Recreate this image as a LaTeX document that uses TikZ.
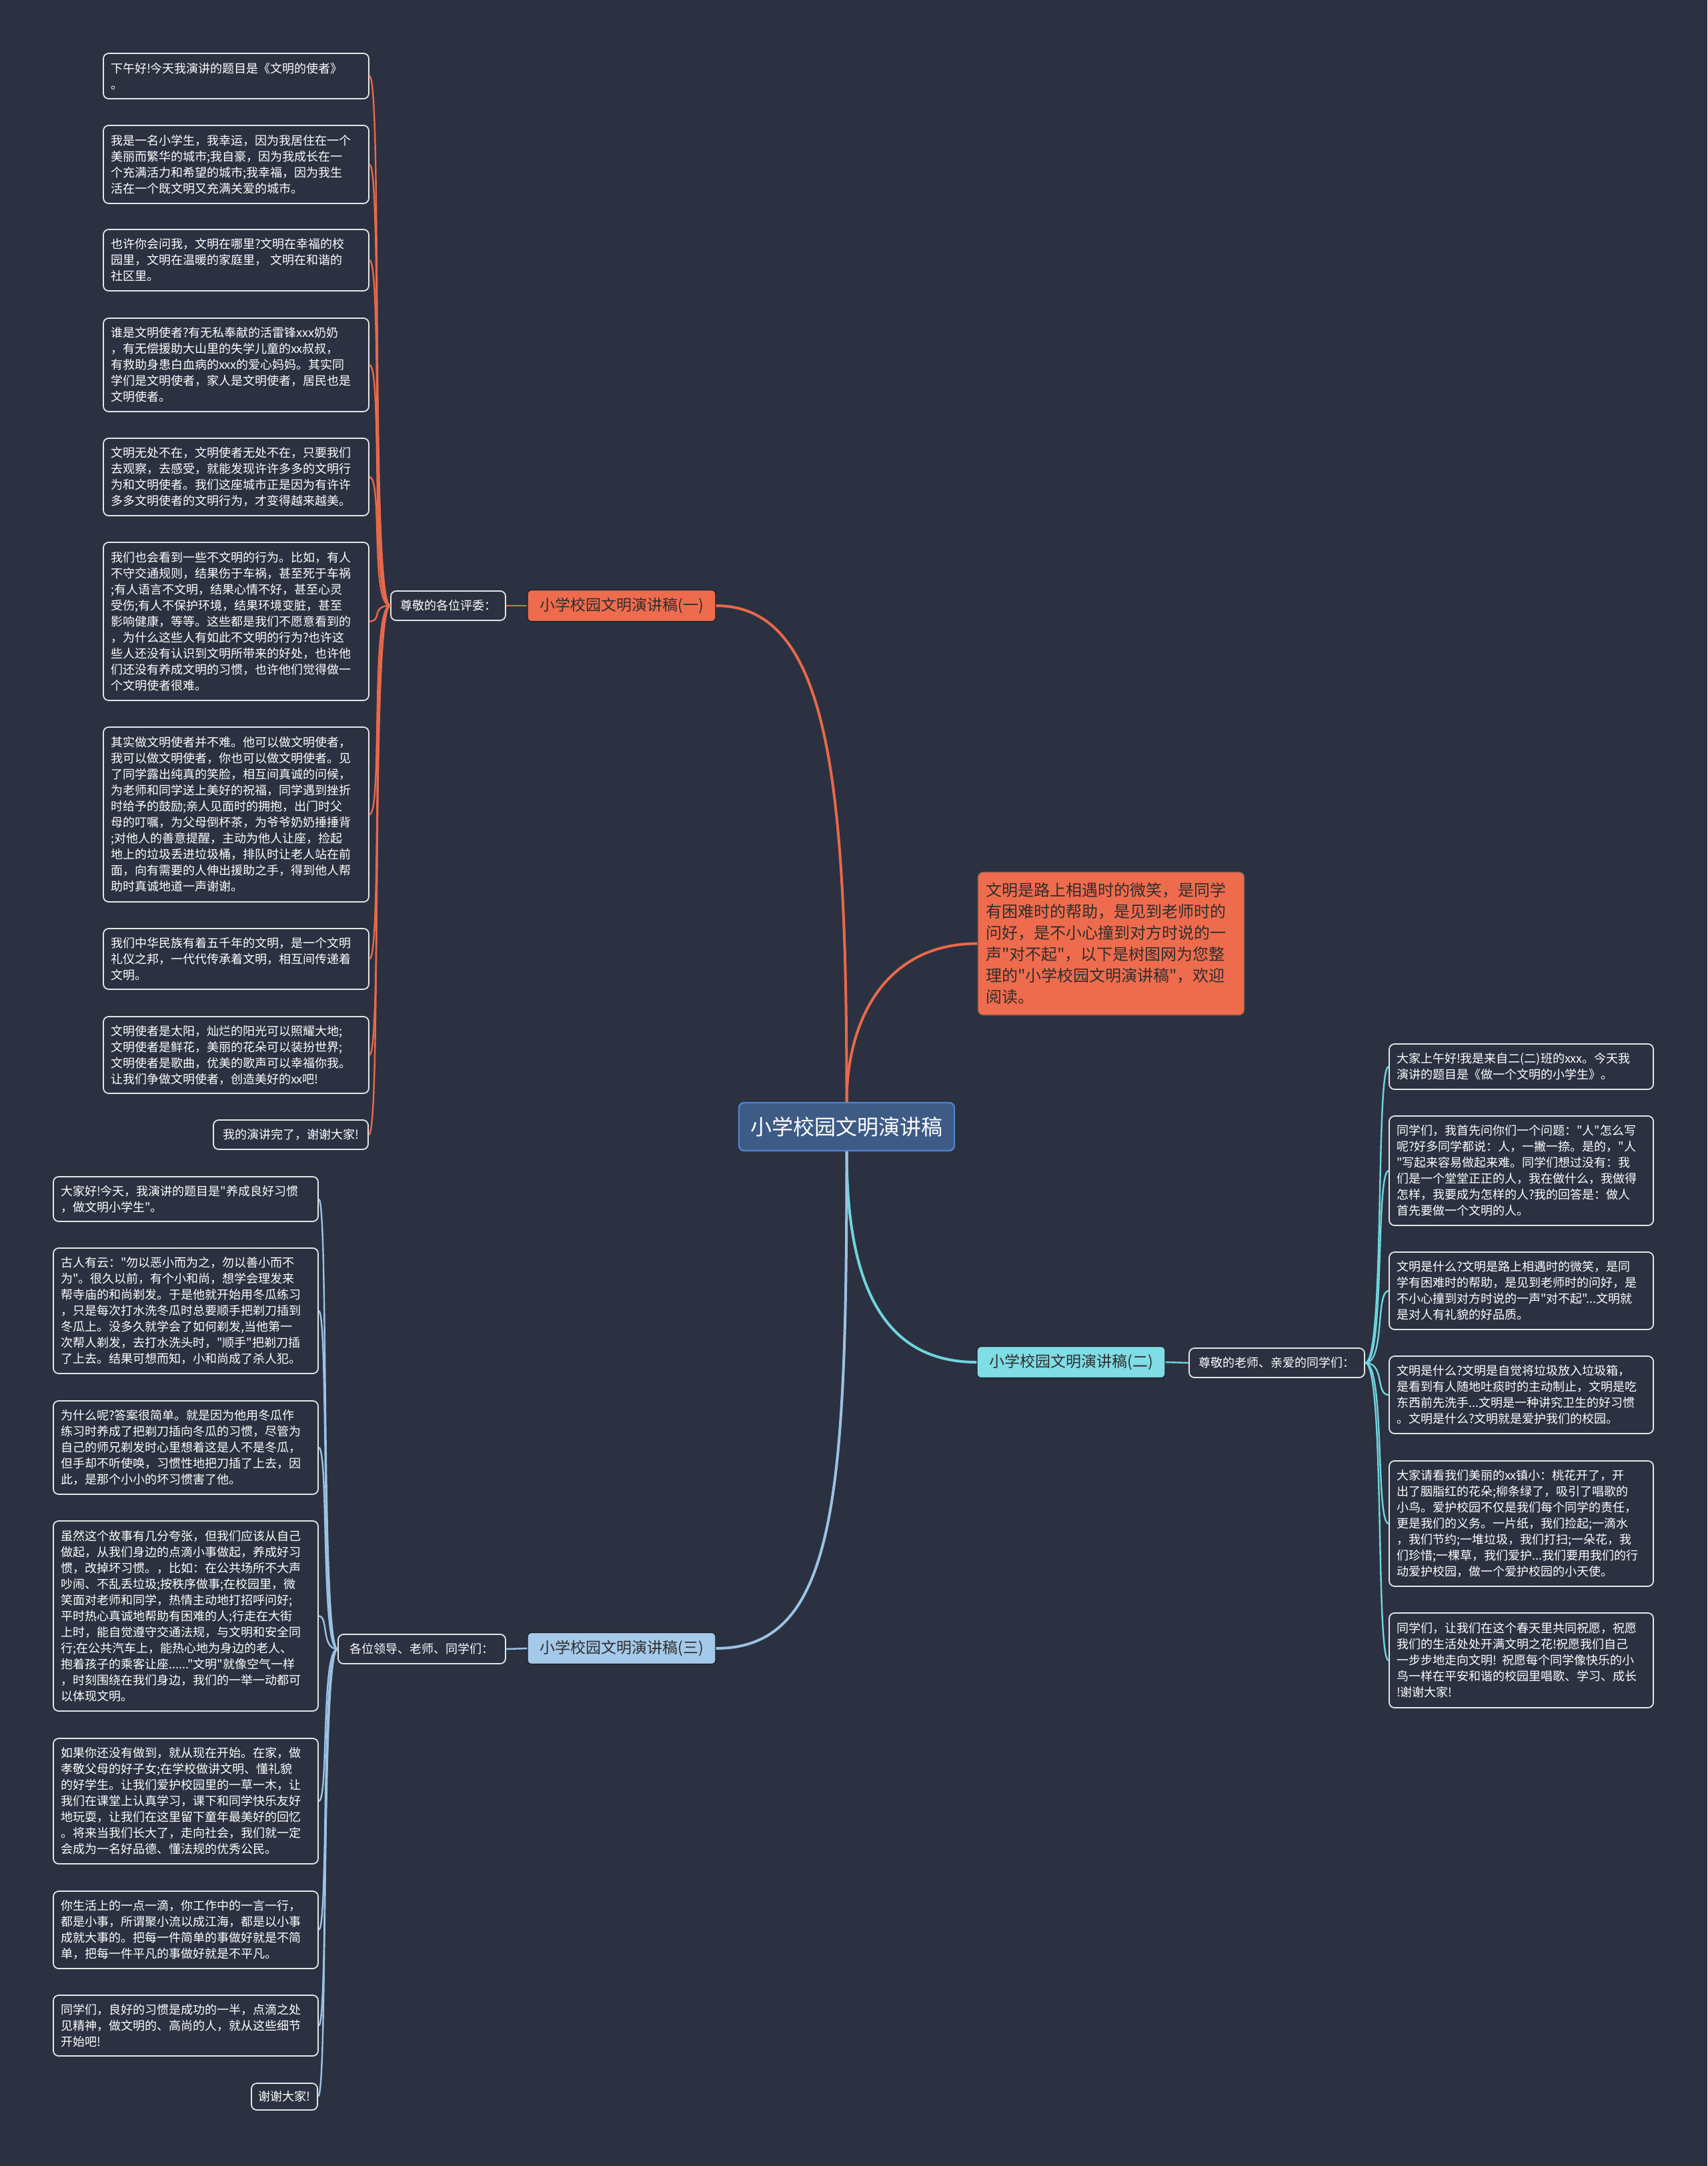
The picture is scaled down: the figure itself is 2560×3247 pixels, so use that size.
\documentclass[tikz,border=0pt]{standalone}
\usepackage{fontspec}
\setmainfont{Noto Sans CJK SC}[Ligatures=TeXOff]
\definecolor{bgc}{HTML}{2B3140}
\definecolor{orf}{HTML}{EE6C4D}
\definecolor{orl}{HTML}{E8694B}
\definecolor{cyf}{HTML}{80DCE5}
\definecolor{cyl}{HTML}{6FD5DE}
\definecolor{lbf}{HTML}{A5C9E9}
\definecolor{lbl}{HTML}{9BC2E4}
\definecolor{rootf}{HTML}{3E5B86}
\definecolor{rootb}{HTML}{4C84D4}
\definecolor{leafb}{HTML}{E6E6E6}
\definecolor{darkt}{HTML}{2E2E2E}
\begin{document}
\begin{tikzpicture}[x=0.5pt,y=-0.5pt,
  leaf/.style={draw=leafb, line width=0.9pt, rounded corners=4pt, fill=bgc, text=white,
    font=\fontsize{9}{12}\selectfont, align=left, inner xsep=5.5pt, inner ysep=1pt,
    text width=188pt, minimum width=199pt},
  short/.style={draw=leafb, line width=0.9pt, rounded corners=4pt, fill=bgc, text=white,
    font=\fontsize{9}{12}\selectfont, inner sep=1pt, minimum height=21pt},
  subn/.style={draw=leafb, line width=0.9pt, rounded corners=4pt, fill=bgc, text=white,
    font=\fontsize{9}{12}\selectfont, inner sep=1pt, minimum height=22pt},
  branch/.style={rounded corners=3pt, text=darkt, font=\fontsize{11.5}{14}\selectfont,
    inner sep=1pt, minimum width=141pt, minimum height=23.5pt, draw=bgc!60!black, line width=0.6pt},
  oline/.style={draw=orl, line width=1.2pt},
  cline/.style={draw=cyl, line width=1.2pt},
  bline/.style={draw=lbl, line width=1.2pt},
  mainl/.style={line width=2pt}]
\fill[bgc] (0,0) rectangle (2560,3247);

% root and summary
\node[draw=rootb, line width=1.2pt, fill=rootf, rounded corners=4pt, text=white,
  font=\fontsize{16}{18}\selectfont, minimum width=161.5pt, minimum height=36pt, inner sep=1pt]
  (root) at (1269.5,1689) {小学校园文明演讲稿};
\node[draw=black!70, line width=0.6pt, fill=orf, rounded corners=4pt, text=darkt,
  font=\fontsize{12}{16}\selectfont, align=left, text width=188pt, inner xsep=6pt,
  minimum height=107.5pt, inner ysep=1pt]
  (sum) at (1666,1414.5) {文明是路上相遇时的微笑，是同学\\有困难时的帮助，是见到老师时的\\问好，是不小心撞到对方时说的一\\声"对不起"，以下是树图网为您整\\理的"小学校园文明演讲稿"，欢迎\\阅读。};

% branches
\node[branch, fill=orf] (b1) at (932,908) {小学校园文明演讲稿(一)};
\node[branch, fill=cyf] (b2) at (1606,2042) {小学校园文明演讲稿(二)};
\node[branch, fill=lbf] (b3) at (932,2471) {小学校园文明演讲稿(三)};

% sub nodes
\node[subn, minimum width=86pt] (s1) at (672,908) {尊敬的各位评委：};
\node[subn, minimum width=131.5pt] (s2) at (1914.5,2043) {尊敬的老师、亲爱的同学们：};
\node[subn, minimum width=125.5pt] (s3) at (632.5,2472) {各位领导、老师、同学们：};

% main connectors
\draw[oline, mainl] (root.north) .. controls +(0,-480) and +(170,0) .. (b1.east);
\draw[oline, mainl] (root.north) .. controls +(0,-120) and +(-140,0) .. (sum.west);
\draw[cline, mainl] (root.south) .. controls +(0,200) and +(-140,0) .. (b2.west);
\draw[bline, mainl] (root.south) .. controls +(0,520) and +(180,0) .. (b3.east);
\draw[oline] (b1.west) -- (s1.east);
\draw[cline] (b2.east) -- (s2.west);
\draw[bline] (b3.west) -- (s3.east);

% left top leaves
\node[leaf, minimum height=34pt] (l1) at (354,114) {下午好!今天我演讲的题目是《文明的使者》\\。};
\node[leaf, minimum height=58.5pt] (l2) at (354,246.5) {我是一名小学生，我幸运，因为我居住在一个\\美丽而繁华的城市;我自豪，因为我成长在一\\个充满活力和希望的城市;我幸福，因为我生\\活在一个既文明又充满关爱的城市。};
\node[leaf, minimum height=46pt] (l3) at (354,390) {也许你会问我，文明在哪里?文明在幸福的校\\园里，文明在温暖的家庭里， 文明在和谐的\\社区里。};
\node[leaf, minimum height=70pt] (l4) at (354,547) {谁是文明使者?有无私奉献的活雷锋xxx奶奶\\，有无偿援助大山里的失学儿童的xx叔叔，\\有救助身患白血病的xxx的爱心妈妈。其实同\\学们是文明使者，家人是文明使者，居民也是\\文明使者。};
\node[leaf, minimum height=58pt] (l5) at (354,715) {文明无处不在，文明使者无处不在，只要我们\\去观察，去感受，就能发现许许多多的文明行\\为和文明使者。我们这座城市正是因为有许许\\多多文明使者的文明行为，才变得越来越美。};
\node[leaf, minimum height=118.5pt] (l6) at (354,931.5) {我们也会看到一些不文明的行为。比如，有人\\不守交通规则，结果伤于车祸，甚至死于车祸\\;有人语言不文明，结果心情不好，甚至心灵\\受伤;有人不保护环境，结果环境变脏，甚至\\影响健康，等等。这些都是我们不愿意看到的\\，为什么这些人有如此不文明的行为?也许这\\些人还没有认识到文明所带来的好处，也许他\\们还没有养成文明的习惯，也许他们觉得做一\\个文明使者很难。};
\node[leaf, minimum height=131pt] (l7) at (354,1221) {其实做文明使者并不难。他可以做文明使者，\\我可以做文明使者，你也可以做文明使者。见\\了同学露出纯真的笑脸，相互间真诚的问候，\\为老师和同学送上美好的祝福，同学遇到挫折\\时给予的鼓励;亲人见面时的拥抱，出门时父\\母的叮嘱，为父母倒杯茶，为爷爷奶奶捶捶背\\;对他人的善意提醒，主动为他人让座，捡起\\地上的垃圾丢进垃圾桶，排队时让老人站在前\\面，向有需要的人伸出援助之手，得到他人帮\\助时真诚地道一声谢谢。};
\node[leaf, minimum height=45.5pt] (l8) at (354,1437.5) {我们中华民族有着五千年的文明，是一个文明\\礼仪之邦，一代代传承着文明，相互间传递着\\文明。};
\node[leaf, minimum height=57.5pt] (l9) at (354,1581.5) {文明使者是太阳，灿烂的阳光可以照耀大地;\\文明使者是鲜花，美丽的花朵可以装扮世界;\\文明使者是歌曲，优美的歌声可以幸福你我。\\让我们争做文明使者，创造美好的xx吧!};
\node[short, minimum width=116pt, minimum height=22pt] (l10) at (436,1701) {我的演讲完了，谢谢大家!};

\foreach \n in {l1,l2,l3,l4,l5,l6,l7,l8,l9,l10}
  \draw[oline] (s1.west) .. controls +(-30,0) and +(20,0) .. (\n.east);

% right leaves
\node[leaf, minimum width=198pt, text width=187pt, minimum height=34pt] (r1) at (2281,1599) {大家上午好!我是来自二(二)班的xxx。今天我\\演讲的题目是《做一个文明的小学生》。};
\node[leaf, minimum width=198pt, text width=187pt, minimum height=82pt] (r2) at (2281,1755) {同学们，我首先问你们一个问题："人"怎么写\\呢?好多同学都说：人，一撇一捺。是的，"人\\"写起来容易做起来难。同学们想过没有：我\\们是一个堂堂正正的人，我在做什么，我做得\\怎样，我要成为怎样的人?我的回答是：做人\\首先要做一个文明的人。};
\node[leaf, minimum width=198pt, text width=187pt, minimum height=58pt] (r3) at (2281,1935) {文明是什么?文明是路上相遇时的微笑，是同\\学有困难时的帮助，是见到老师时的问好，是\\不小心撞到对方时说的一声"对不起"...文明就\\是对人有礼貌的好品质。};
\node[leaf, minimum width=198pt, text width=187pt, minimum height=58pt] (r4) at (2281,2091) {文明是什么?文明是自觉将垃圾放入垃圾箱，\\是看到有人随地吐痰时的主动制止，文明是吃\\东西前先洗手...文明是一种讲究卫生的好习惯\\。文明是什么?文明就是爱护我们的校园。};
\node[leaf, minimum width=198pt, text width=187pt, minimum height=94pt] (r5) at (2281,2284) {大家请看我们美丽的xx镇小：桃花开了，开\\出了胭脂红的花朵;柳条绿了，吸引了唱歌的\\小鸟。爱护校园不仅是我们每个同学的责任，\\更是我们的义务。一片纸，我们捡起;一滴水\\，我们节约;一堆垃圾，我们打扫;一朵花，我\\们珍惜;一棵草，我们爱护...我们要用我们的行\\动爱护校园，做一个爱护校园的小天使。};
\node[leaf, minimum width=198pt, text width=187pt, minimum height=71pt] (r6) at (2281,2489) {同学们，让我们在这个春天里共同祝愿，祝愿\\我们的生活处处开满文明之花!祝愿我们自己\\一步步地走向文明! 祝愿每个同学像快乐的小\\鸟一样在平安和谐的校园里唱歌、学习、成长\\!谢谢大家!};

\foreach \n in {r1,r2,r3,r4,r5,r6}
  \draw[cline] (s2.east) .. controls +(30,0) and +(-20,0) .. (\n.west);

% bottom left leaves
\node[leaf, minimum width=198.5pt, text width=187.5pt, minimum height=33.5pt] (c1) at (278.5,1797.5) {大家好!今天，我演讲的题目是"养成良好习惯\\，做文明小学生"。};
\node[leaf, minimum width=198.5pt, text width=187.5pt, minimum height=94pt] (c2) at (278.5,1965) {古人有云："勿以恶小而为之，勿以善小而不\\为"。很久以前，有个小和尚，想学会理发来\\帮寺庙的和尚剃发。于是他就开始用冬瓜练习\\，只是每次打水洗冬瓜时总要顺手把剃刀插到\\冬瓜上。没多久就学会了如何剃发,当他第一\\次帮人剃发，去打水洗头时，"顺手"把剃刀插\\了上去。结果可想而知，小和尚成了杀人犯。};
\node[leaf, minimum width=198.5pt, text width=187.5pt, minimum height=70pt] (c3) at (278.5,2170) {为什么呢?答案很简单。就是因为他用冬瓜作\\练习时养成了把剃刀插向冬瓜的习惯，尽管为\\自己的师兄剃发时心里想着这是人不是冬瓜，\\但手却不听使唤，习惯性地把刀插了上去，因\\此，是那个小小的坏习惯害了他。};
\node[leaf, minimum width=198.5pt, text width=187.5pt, minimum height=142.5pt] (c4) at (278.5,2422.5) {虽然这个故事有几分夸张，但我们应该从自己\\做起，从我们身边的点滴小事做起，养成好习\\惯，改掉坏习惯。，比如：在公共场所不大声\\吵闹、不乱丢垃圾;按秩序做事;在校园里，微\\笑面对老师和同学，热情主动地打招呼问好;\\平时热心真诚地帮助有困难的人;行走在大街\\上时，能自觉遵守交通法规，与文明和安全同\\行;在公共汽车上，能热心地为身边的老人、\\抱着孩子的乘客让座......"文明"就像空气一样\\，时刻围绕在我们身边，我们的一举一动都可\\以体现文明。};
\node[leaf, minimum width=198.5pt, text width=187.5pt, minimum height=94pt] (c5) at (278.5,2700) {如果你还没有做到，就从现在开始。在家，做\\孝敬父母的好子女;在学校做讲文明、懂礼貌\\的好学生。让我们爱护校园里的一草一木，让\\我们在课堂上认真学习，课下和同学快乐友好\\地玩耍，让我们在这里留下童年最美好的回忆\\。将来当我们长大了，走向社会，我们就一定\\会成为一名好品德、懂法规的优秀公民。};
\node[leaf, minimum width=198.5pt, text width=187.5pt, minimum height=58pt] (c6) at (278.5,2893) {你生活上的一点一滴，你工作中的一言一行，\\都是小事，所谓聚小流以成江海，都是以小事\\成就大事的。把每一件简单的事做好就是不简\\单，把每一件平凡的事做好就是不平凡。};
\node[leaf, minimum width=198.5pt, text width=187.5pt, minimum height=45.5pt] (c7) at (278.5,3036.5) {同学们，良好的习惯是成功的一半，点滴之处\\见精神，做文明的、高尚的人，就从这些细节\\开始吧!};
\node[short, minimum width=49.5pt, minimum height=20pt] (c8) at (426.5,3143) {谢谢大家!};

\foreach \n in {c1,c2,c3,c4,c5,c6,c7,c8}
  \draw[bline] (s3.west) .. controls +(-25,0) and +(15,0) .. (\n.east);
\end{tikzpicture}
\end{document}
